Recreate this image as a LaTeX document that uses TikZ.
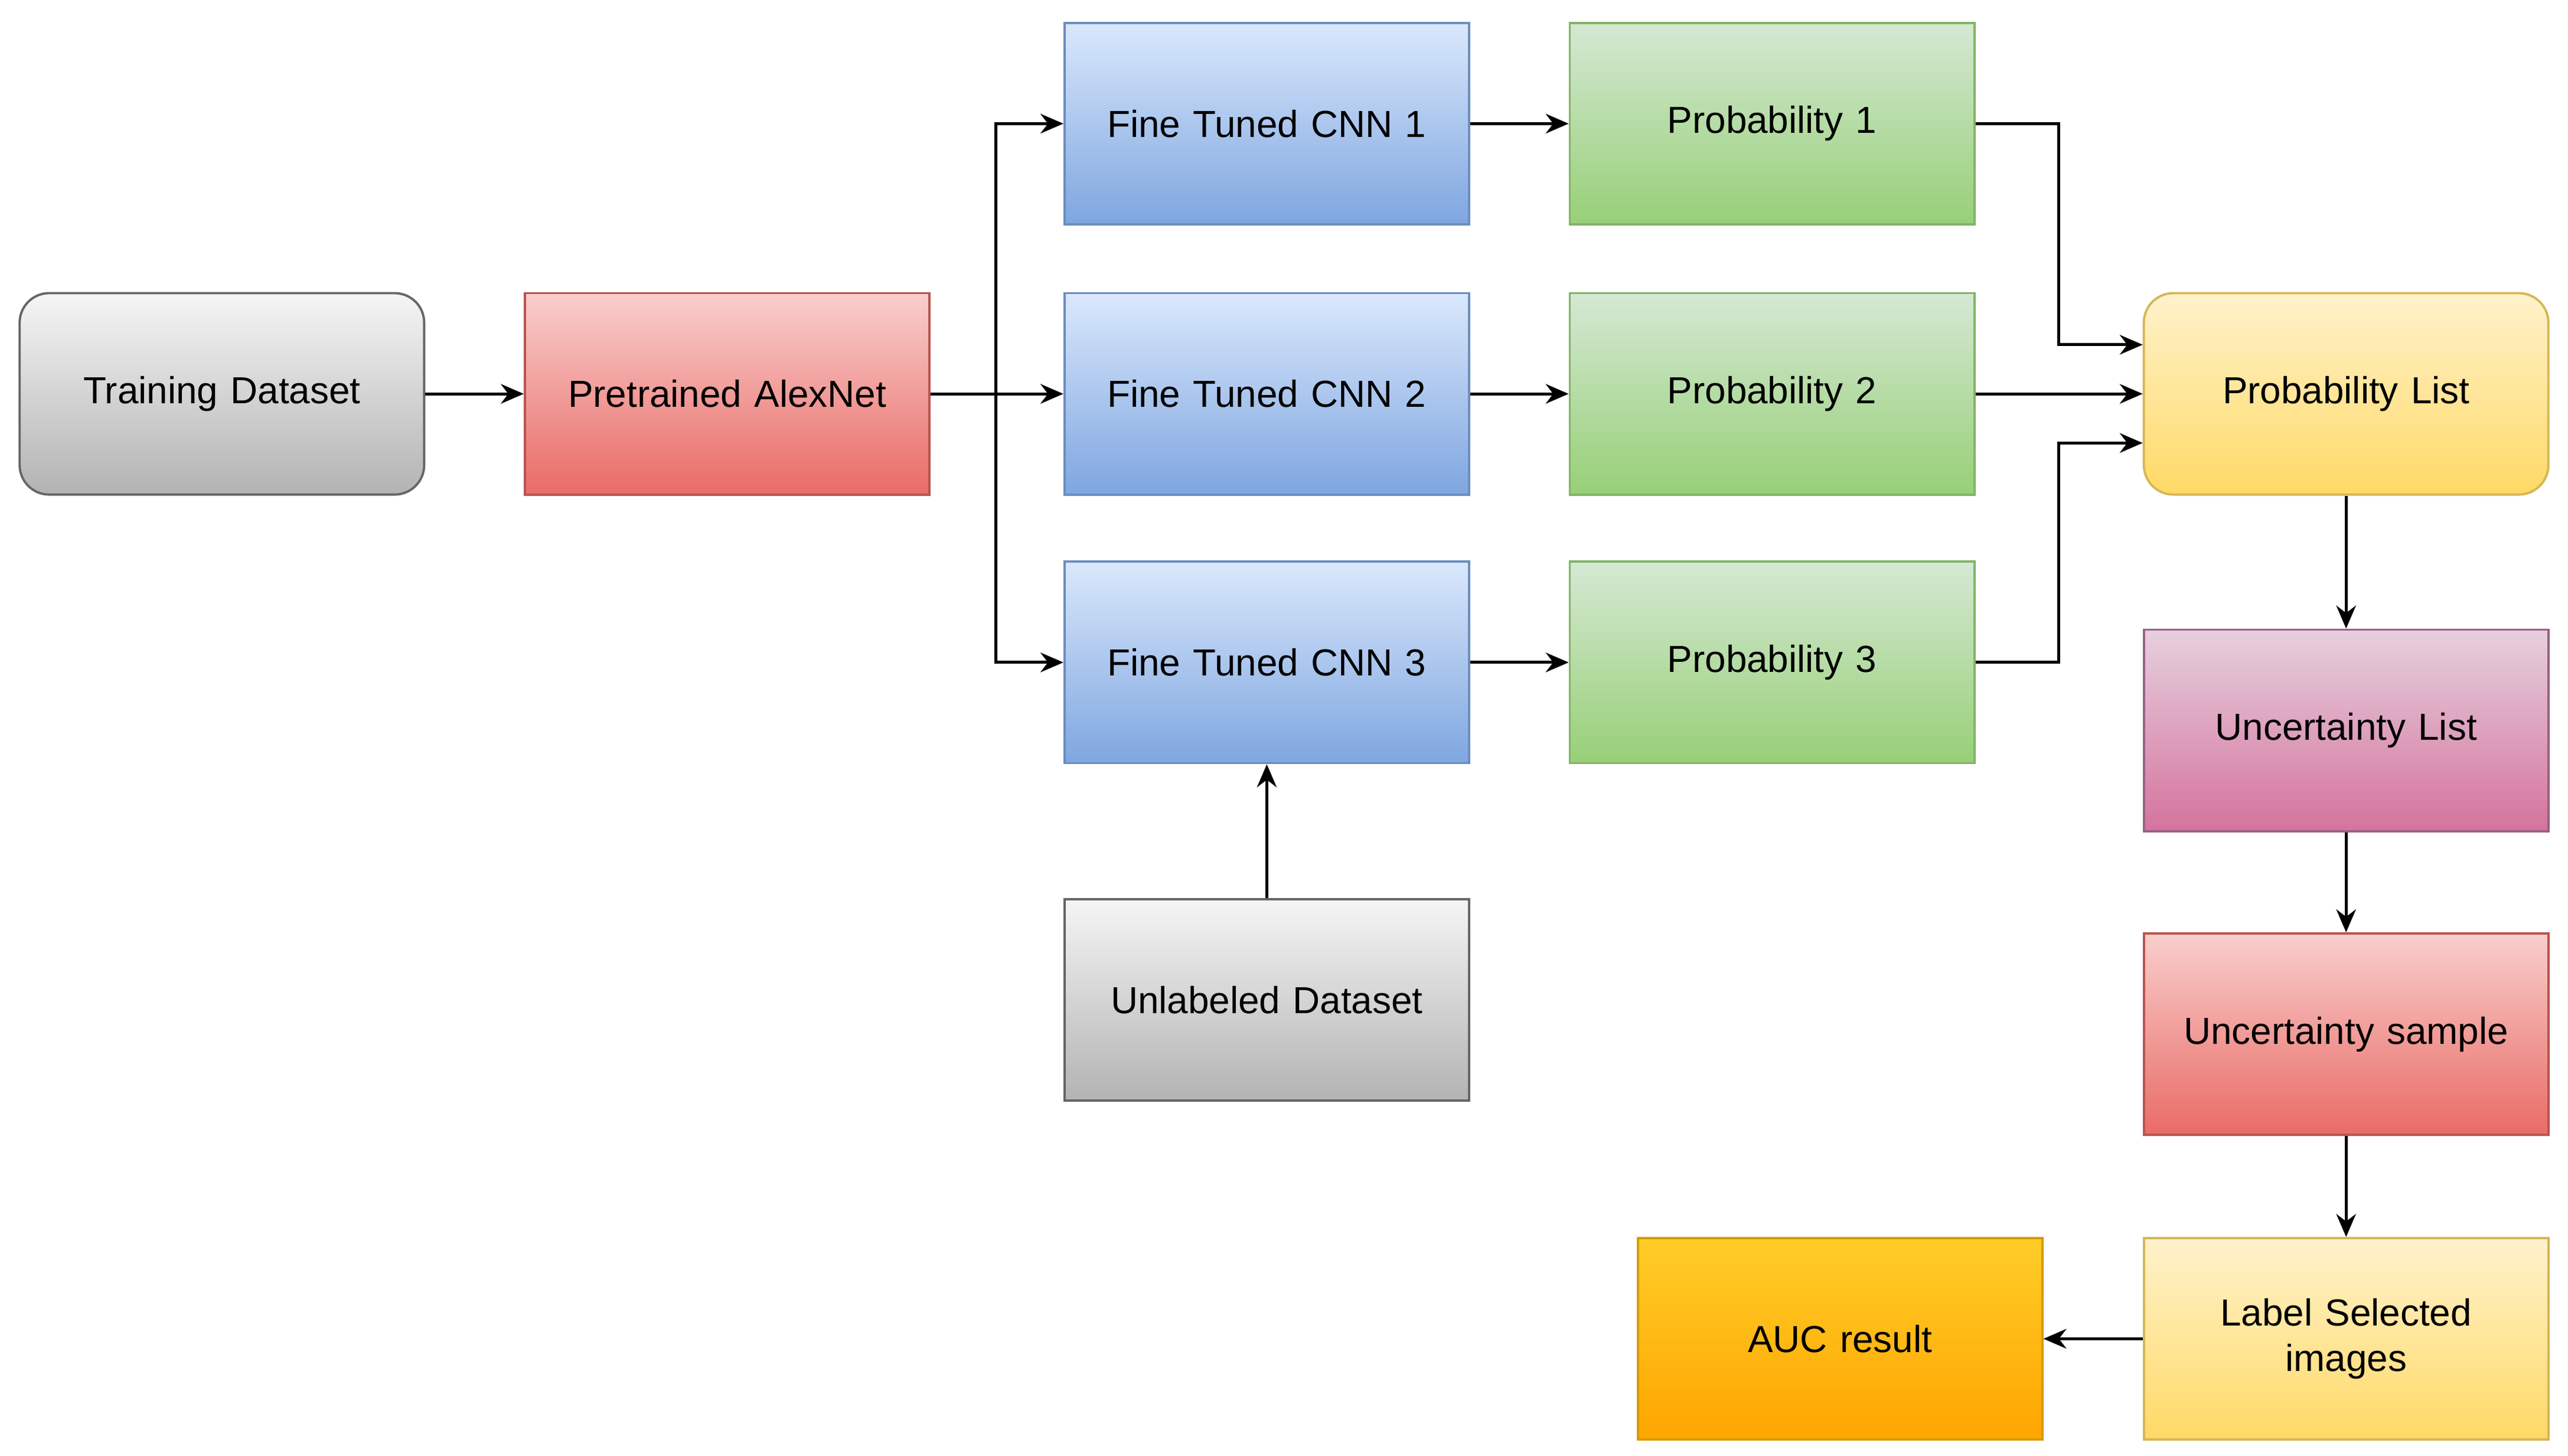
\documentclass[tikz,border=0pt]{standalone}
\usepackage{fontspec}
\setmainfont{Liberation Sans}
\usetikzlibrary{arrows.meta}
\definecolor{grayT}{HTML}{F5F5F5}\definecolor{grayB}{HTML}{B3B3B3}\definecolor{grayD}{HTML}{666666}
\definecolor{redT}{HTML}{F8CECC}\definecolor{redB}{HTML}{EA6B66}\definecolor{redD}{HTML}{B85450}
\definecolor{bluT}{HTML}{DAE8FC}\definecolor{bluB}{HTML}{7EA6E0}\definecolor{bluD}{HTML}{6C8EBF}
\definecolor{grnT}{HTML}{D5E8D4}\definecolor{grnB}{HTML}{97D077}\definecolor{grnD}{HTML}{82B366}
\definecolor{yelT}{HTML}{FFF2CC}\definecolor{yelB}{HTML}{FFD966}\definecolor{yelD}{HTML}{D6B656}
\definecolor{purT}{HTML}{E6D0DE}\definecolor{purB}{HTML}{D5739D}\definecolor{purD}{HTML}{996185}
\definecolor{orT}{HTML}{FFCD28}\definecolor{orB}{HTML}{FFA500}\definecolor{orD}{HTML}{D79B00}
\begin{document}
\begin{tikzpicture}[x=0.5pt,y=-0.5pt,
 box/.style={draw, line width=0.7pt, minimum width=123.5pt, minimum height=61.5pt, align=center, font=\fontsize{11.5}{14}\selectfont, text width=115pt, inner sep=0pt},
 gr/.style={box, top color=grayT, bottom color=grayB, draw=grayD},
 rd/.style={box, top color=redT, bottom color=redB, draw=redD},
 bl/.style={box, top color=bluT, bottom color=bluB, draw=bluD},
 gn/.style={box, top color=grnT, bottom color=grnB, draw=grnD},
 yl/.style={box, top color=yelT, bottom color=yelB, draw=yelD},
 pu/.style={box, top color=purT, bottom color=purB, draw=purD},
 og/.style={box, top color=orT, bottom color=orB, draw=orD},
 rnd/.style={rounded corners=9pt},
 ar/.style={-{Stealth[length=7pt,width=6pt]}, line width=0.9pt}]
\useasboundingbox (0,0) rectangle (1568,889);
\node[gr,rnd] (td) at (135.5,240.5) {Training Dataset};
\node[rd] (alex) at (444,240.5) {Pretrained AlexNet};
\node[bl] (c1) at (773.5,75.5) {Fine Tuned CNN 1};
\node[bl] (c2) at (773.5,240.5) {Fine Tuned CNN 2};
\node[bl] (c3) at (773.5,404.5) {Fine Tuned CNN 3};
\node[gn] (p1) at (1082,75.5) {Probability 1};
\node[gn] (p2) at (1082,240.5) {Probability 2};
\node[gn] (p3) at (1082,404.5) {Probability 3};
\node[gr] (un) at (773.5,610.5) {Unlabeled Dataset};
\node[yl,rnd] (pl) at (1432.5,240.5) {Probability List};
\node[pu] (ul) at (1432.5,446) {Uncertainty List};
\node[rd] (us) at (1432.5,631.5) {Uncertainty sample};
\node[yl] (ls) at (1432.5,817.5) {Label Selected\\images};
\node[og] (auc) at (1123.5,817.5) {AUC result};
\coordinate (sp) at (608,240.5);
\draw[ar] (td) -- (alex);
\draw[ar] (alex) -- (c2);
\draw[ar] (sp) |- (c1);
\draw[ar] (sp) |- (c3);
\foreach \i in {1,2,3} \draw[ar] (c\i) -- (p\i);
\draw[ar] (p1.east) -- (1257,75.5) |- ([yshift=15pt]pl.west);
\draw[ar] (p2) -- (pl);
\draw[ar] (p3.east) -- (1257,404.5) |- ([yshift=-15pt]pl.west);
\draw[ar] (un) -- (c3);
\draw[ar] (pl) -- (ul);
\draw[ar] (ul) -- (us);
\draw[ar] (us) -- (ls);
\draw[ar] (ls) -- (auc);
\end{tikzpicture}
\end{document}
